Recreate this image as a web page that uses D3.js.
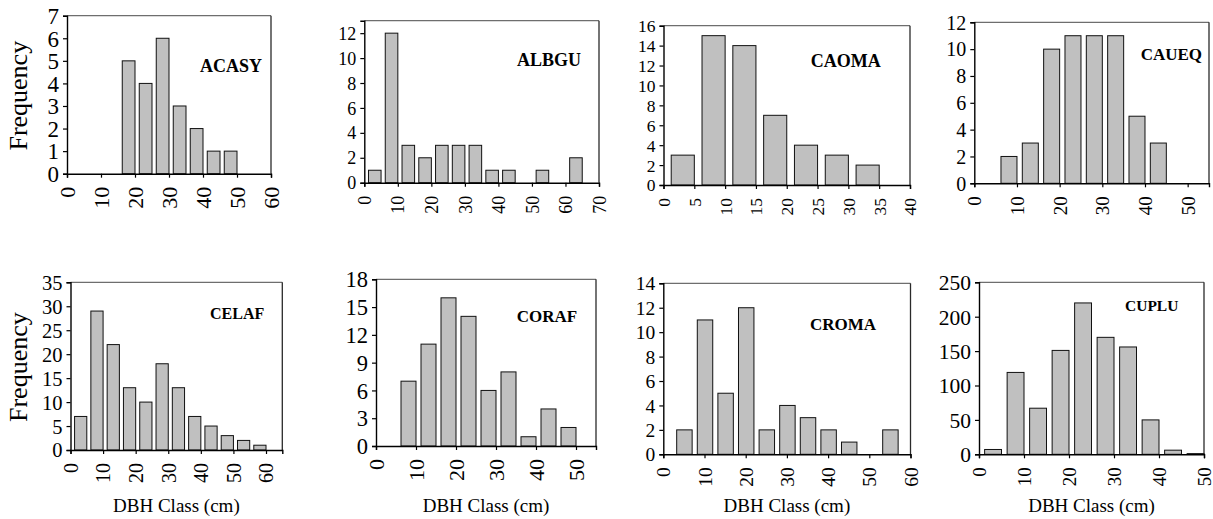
<!DOCTYPE html>
<html>
<head>
<meta charset="utf-8">
<script src="https://cdn.jsdelivr.net/npm/d3@7/dist/d3.min.js"></script>
<style>
  html, body { margin: 0; padding: 0; background: #fff; }
  svg { display: block; }
  svg text { font-family: "Liberation Serif", "DejaVu Serif", serif; fill: #000; }
</style>
</head>
<body>
<svg id="chart" width="1213" height="519"></svg>
<script>
// ---------- DATA (class upper bounds in cm, frequencies) ----------
const speciesNames = ["ACASY", "ALBGU", "CAOMA", "CAUEQ", "CELAF", "CORAF", "CROMA", "CUPLU"];

const acasyClass = [20, 25, 30, 35, 40, 45, 50];
const acasyFreq  = [5, 4, 6, 3, 2, 1, 1];
const acasyXTicks = [0, 10, 20, 30, 40, 50, 60];
const acasyYTicks = [0, 1, 2, 3, 4, 5, 6, 7];

const albguClass = [5, 10, 15, 20, 25, 30, 35, 40, 45, 50, 55, 60, 65];
const albguFreq  = [1, 12, 3, 2, 3, 3, 3, 1, 1, 0, 1, 0, 2];
const albguXTicks = [0, 10, 20, 30, 40, 50, 60, 70];
const albguYTicks = [0, 2, 4, 6, 8, 10, 12];

const caomaClass = [5, 10, 15, 20, 25, 30, 35];
const caomaFreq  = [3, 15, 14, 7, 4, 3, 2];
const caomaXTicks = [0, 5, 10, 15, 20, 25, 30, 35, 40];
const caomaYTicks = [0, 2, 4, 6, 8, 10, 12, 14, 16];

const caueqClass = [10, 15, 20, 25, 30, 35, 40, 45];
const caueqFreq  = [2, 3, 10, 11, 11, 11, 5, 3];
const caueqXTicks = [0, 10, 20, 30, 40, 50];
const caueqYTicks = [0, 2, 4, 6, 8, 10, 12];

const celafClass = [5, 10, 15, 20, 25, 30, 35, 40, 45, 50, 55, 60];
const celafFreq  = [7, 29, 22, 13, 10, 18, 13, 7, 5, 3, 2, 1];
const celafXTicks = [0, 10, 20, 30, 40, 50, 60];
const celafYTicks = [0, 5, 10, 15, 20, 25, 30, 35];

const corafClass = [10, 15, 20, 25, 30, 35, 40, 45, 50];
const corafFreq  = [7, 11, 16, 14, 6, 8, 1, 4, 2];
const corafXTicks = [0, 10, 20, 30, 40, 50];
const corafYTicks = [0, 3, 6, 9, 12, 15, 18];

const cromaClass = [7, 12, 17, 22, 27, 32, 37, 42, 47, 52, 57];
const cromaFreq  = [2, 11, 5, 12, 2, 4, 3, 2, 1, 0, 2];
const cromaXTicks = [0, 10, 20, 30, 40, 50, 60];
const cromaYTicks = [0, 2, 4, 6, 8, 10, 12, 14];

const cupluClass = [5, 10, 15, 20, 25, 30, 35, 40, 45, 50];
const cupluFreq  = [7, 119, 67, 151, 220, 170, 156, 50, 6, 1];
const cupluXTicks = [0, 10, 20, 30, 40, 50];
const cupluYTicks = [0, 50, 100, 150, 200, 250];

const yAxisTitle = "Frequency";
const xAxisTitle = "DBH Class (cm)";

// ---------- LAYOUT / STYLE ----------
const panels = [
  { name: speciesNames[0], cls: acasyClass, freq: acasyFreq, xt: acasyXTicks, yt: acasyYTicks, xmax: 60, ymax: 7,
    L: 67, T: 15.7, R: 271, B: 173.7, yfs: 23, xfs: 22, tx: 200, ty: 71.7, tfs: 18, ylab: true, xlab: false },
  { name: speciesNames[1], cls: albguClass, freq: albguFreq, xt: albguXTicks, yt: albguYTicks, xmax: 70, ymax: 13,
    L: 364.3, T: 20.7, R: 599, B: 182.7, yfs: 18, xfs: 18, tx: 517, ty: 65.7, tfs: 18, ylab: false, xlab: false },
  { name: speciesNames[2], cls: caomaClass, freq: caomaFreq, xt: caomaXTicks, yt: caomaYTicks, xmax: 40, ymax: 16,
    L: 663.5, T: 25.7, R: 910, B: 185, yfs: 17.5, xfs: 17.5, tx: 810.7, ty: 66.7, tfs: 18, ylab: false, xlab: false },
  { name: speciesNames[3], cls: caueqClass, freq: caueqFreq, xt: caueqXTicks, yt: caueqYTicks, xmax: 55, ymax: 12,
    L: 974.3, T: 22.3, R: 1209, B: 183.3, yfs: 20, xfs: 19, tx: 1140.7, ty: 60, tfs: 17, ylab: false, xlab: false },
  { name: speciesNames[4], cls: celafClass, freq: celafFreq, xt: celafXTicks, yt: celafYTicks, xmax: 65, ymax: 35,
    L: 70.5, T: 282.3, R: 282.3, B: 450, yfs: 20.5, xfs: 20, tx: 210, ty: 319.3, tfs: 16, ylab: true, xlab: true },
  { name: speciesNames[5], cls: corafClass, freq: corafFreq, xt: corafXTicks, yt: corafYTicks, xmax: 55, ymax: 18,
    L: 376, T: 279.3, R: 596, B: 446, yfs: 22.5, xfs: 22, tx: 516.7, ty: 321.7, tfs: 17, ylab: false, xlab: true },
  { name: speciesNames[6], cls: cromaClass, freq: cromaFreq, xt: cromaXTicks, yt: cromaYTicks, xmax: 60, ymax: 14,
    L: 663.3, T: 283.3, R: 910.5, B: 454.3, yfs: 19.5, xfs: 19.5, tx: 810, ty: 330, tfs: 17, ylab: false, xlab: true },
  { name: speciesNames[7], cls: cupluClass, freq: cupluFreq, xt: cupluXTicks, yt: cupluYTicks, xmax: 50, ymax: 250,
    L: 979, T: 282.3, R: 1204, B: 454.3, yfs: 21.5, xfs: 19, tx: 1125, ty: 310.7, tfs: 15.5, ylab: false, xlab: true }
];

const binWidth = 5;       // cm
const barFrac = 0.75;     // bar occupies 75% of the class, right aligned
const serif = '"Liberation Serif", "DejaVu Serif", serif';

const svg = d3.select("#chart");

panels.forEach(p => {
  const x = d3.scaleLinear().domain([0, p.xmax]).range([p.L, p.R]);
  const y = d3.scaleLinear().domain([0, p.ymax]).range([p.B, p.T]);
  const g = svg.append("g");

  // frame (top + right)
  g.append("line").attr("x1", p.L).attr("x2", p.R).attr("y1", p.T).attr("y2", p.T)
    .attr("stroke", "#6e6e6e").attr("stroke-width", 1.3);
  g.append("line").attr("x1", p.R).attr("x2", p.R).attr("y1", p.T).attr("y2", p.B)
    .attr("stroke", "#2a2a2a").attr("stroke-width", 1.3);

  // bars
  const data = p.cls.map((c, i) => ({ c, v: p.freq[i] }));
  g.selectAll("rect.bar").data(data.filter(d => d.v > 0)).join("rect")
    .attr("class", "bar")
    .attr("x", d => x(d.c - binWidth * barFrac))
    .attr("width", d => x(d.c) - x(d.c - binWidth * barFrac))
    .attr("y", d => y(d.v))
    .attr("height", d => y(0) - y(d.v))
    .attr("fill", "#c0c0c0")
    .attr("stroke", "#111")
    .attr("stroke-width", 1);

  // y axis
  const ya = g.append("g").attr("transform", `translate(${p.L},0)`)
    .call(d3.axisLeft(y).tickValues(p.yt).tickSize(4).tickPadding(4).tickFormat(d3.format("d")));
  ya.attr("font-family", null).attr("font-size", null);
  ya.select(".domain").attr("stroke", "#000").attr("stroke-width", 1.4);
  ya.selectAll(".tick line").attr("stroke", "#000").attr("stroke-width", 1.2);
  ya.selectAll(".tick text")
    .style("font-size", p.yfs + "px").style("font-family", serif).attr("fill", "#000")
    .attr("dy", "0.34em");

  // x axis
  const xa = g.append("g").attr("transform", `translate(0,${p.B})`)
    .call(d3.axisBottom(x).tickValues(p.xt).tickSize(4).tickFormat(d3.format("d")));
  xa.attr("font-family", null).attr("font-size", null);
  xa.select(".domain").attr("stroke", "#000").attr("stroke-width", 1.4);
  xa.selectAll(".tick line").attr("stroke", "#000").attr("stroke-width", 1.2);
  xa.selectAll(".tick text")
    .style("font-size", p.xfs + "px").style("font-family", serif).attr("fill", "#000")
    .attr("text-anchor", "end")
    .attr("y", 0).attr("dy", "0.34em")
    .attr("transform", "translate(0,13) rotate(-90)");

  // species title
  g.append("text").attr("x", p.tx).attr("y", p.ty)
    .style("font-size", p.tfs + "px").style("font-weight", "bold").style("font-family", serif)
    .text(p.name);

  if (p.ylab) {
    g.append("text")
      .attr("transform", `translate(27,${(p.T + p.B) / 2 + 1}) rotate(-90)`)
      .attr("text-anchor", "middle")
      .style("font-size", "26px").style("font-family", serif)
      .text(yAxisTitle);
  }
  if (p.xlab) {
    g.append("text")
      .attr("x", (p.L + p.R) / 2).attr("y", 512)
      .attr("text-anchor", "middle")
      .style("font-size", "19px").style("font-family", serif)
      .text(xAxisTitle);
  }
});
</script>
</body>
</html>
